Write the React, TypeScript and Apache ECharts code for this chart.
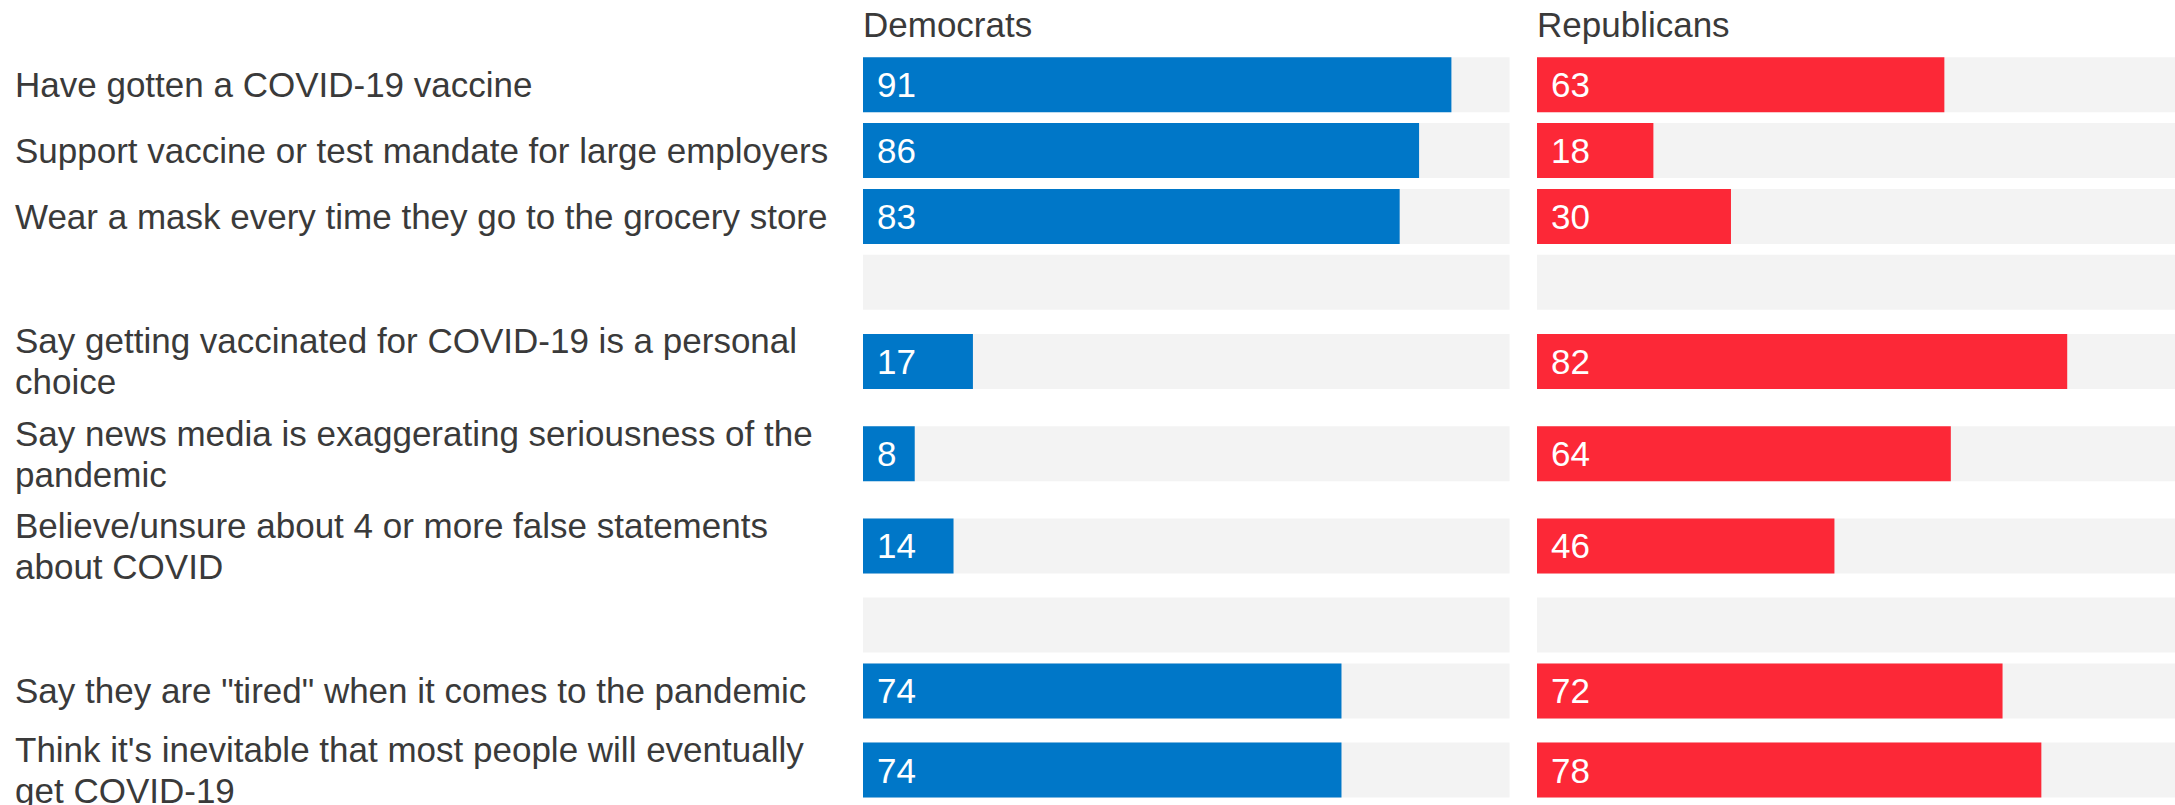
import React, { useEffect, useRef } from "react";
import * as echarts from "echarts";

const categories: string[] = [
  "Have gotten a COVID-19 vaccine",
  "Support vaccine or test mandate for large employers",
  "Wear a mask every time they go to the grocery store",
  "",
  "Say getting vaccinated for COVID-19 is a personal\nchoice",
  "Say news media is exaggerating seriousness of the\npandemic",
  "Believe/unsure about 4 or more false statements\nabout COVID",
  "",
  "Say they are \"tired\" when it comes to the pandemic",
  "Think it's inevitable that most people will eventually\nget COVID-19",
];

const democrats: (number | null)[] = [91, 86, 83, null, 17, 8, 14, null, 74, 74];
const republicans: (number | null)[] = [63, 18, 30, null, 82, 64, 46, null, 72, 78];

const groupNames = ["Democrats", "Republicans"];
const scaleMax = 100;

const FONT = "'Liberation Sans', Arial, Helvetica, sans-serif";
const BLUE = "#0077c8";
const RED = "#fc2837";
const TRACK = "#f3f3f3";
const TEXT = "#3a3a3a";

// layout: each row takes a number of slots depending on its label line count
const rowSlots = categories.map((c) => (c.split("\n").length > 1 ? 7 : 5));
const slotLabels: string[] = [];
const slotRow: number[] = [];
rowSlots.forEach((n, r) => {
  const mid = Math.floor(n / 2);
  for (let i = 0; i < n; i++) {
    slotLabels.push(i === mid ? "row" + r : "");
    slotRow.push(i === mid ? r : -1);
  }
});

function slotData(values: (number | null)[]) {
  return slotRow.map((r) => (r < 0 || values[r] === null ? "-" : values[r]));
}
function trackData() {
  return slotRow.map((r) => (r < 0 ? "-" : scaleMax));
}

export default function App() {
  const ref = useRef<HTMLDivElement>(null);

  useEffect(() => {
    document.body.style.margin = "0";
    if (!ref.current) return;
    const chart = echarts.init(ref.current, null, { renderer: "svg" });

    const slotPx = 13.18;
    const gridTop = 51.7;
    const gridHeight = slotLabels.length * slotPx;
    const gridWidth = 646.6;
    const lefts = [863, 1537];
    const barW = 55;

    const grids = lefts.map((l) => ({
      left: l,
      top: gridTop,
      width: gridWidth,
      height: gridHeight,
      containLabel: false,
      outerBoundsMode: "none",
    }));

    const xAxes = lefts.map((_, i) => ({
      type: "value",
      gridIndex: i,
      min: 0,
      max: scaleMax,
      show: false,
    }));

    const yAxes = lefts.map((_, i) => ({
      type: "category",
      gridIndex: i,
      inverse: true,
      data: slotLabels,
      axisLine: { show: false },
      axisTick: { show: false },
      splitLine: { show: false },
      axisLabel: {
        show: i === 0,
        interval: 0,
        hideOverlap: false,
        align: "left",
        margin: 863 - 15,
        color: TEXT,
        fontFamily: FONT,
        fontSize: 35,
        lineHeight: 41,
        formatter: (v: string) => (v.startsWith("row") ? categories[Number(v.slice(3))] : ""),
      },
    }));

    const seriesFor = (i: number, values: (number | null)[], color: string) => [
      {
        type: "bar",
        xAxisIndex: i,
        yAxisIndex: i,
        data: trackData(),
        barWidth: barW,
        barGap: "-100%",
        itemStyle: { color: TRACK },
        silent: true,
        z: 1,
      },
      {
        type: "bar",
        name: groupNames[i],
        xAxisIndex: i,
        yAxisIndex: i,
        data: slotData(values),
        barWidth: barW,
        barGap: "-100%",
        itemStyle: { color },
        z: 2,
        label: {
          show: true,
          position: "insideLeft",
          distance: 14,
          color: "#ffffff",
          fontFamily: FONT,
          fontSize: 35,
        },
      },
    ];

    chart.setOption({
      animation: false,
      backgroundColor: "#ffffff",
      title: groupNames.map((n, i) => ({
        text: n,
        left: lefts[i],
        top: 7,
        padding: 0,
        textStyle: {
          color: TEXT,
          fontFamily: FONT,
          fontSize: 35,
          fontWeight: "normal",
        },
      })),
      grid: grids,
      xAxis: xAxes,
      yAxis: yAxes,
      series: [...seriesFor(0, democrats, BLUE), ...seriesFor(1, republicans, RED)],
    });

    return () => chart.dispose();
  }, []);

  return <div ref={ref} style={{ width: 2175, height: 805 }} />;
}
